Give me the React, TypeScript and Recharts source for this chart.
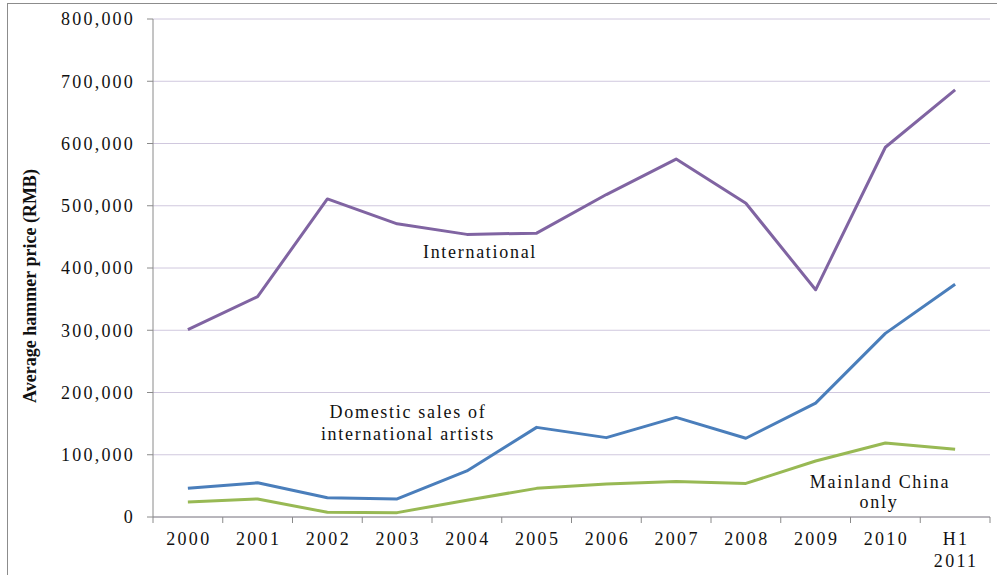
import React from 'react';
import { ComposedChart, Line, XAxis, YAxis, CartesianGrid, Customized } from 'recharts';

const categories = ['2000', '2001', '2002', '2003', '2004', '2005', '2006', '2007', '2008', '2009', '2010', 'H1 2011'];
const international = [301000, 354000, 511000, 471000, 454000, 456000, 518000, 575000, 504000, 365000, 594000, 686000];
const domesticIntl = [46000, 55000, 31000, 29000, 74000, 144000, 127500, 160000, 126500, 183000, 295000, 374000];
const mainland = [24000, 29000, 7500, 7000, 27000, 46000, 53000, 57000, 54000, 90000, 119000, 109000];
const yTicks = [0, 100000, 200000, 300000, 400000, 500000, 600000, 700000, 800000];

const data = categories.map((c, i) => ({
  year: c,
  international: international[i],
  domestic: domesticIntl[i],
  mainland: mainland[i],
}));

const FONT = '"Liberation Serif", "Times New Roman", serif';
const AXIS = '#8A8A8A';

const XTick = (props: any) => {
  const { x, y, payload, index } = props;
  const off = payload && payload.offset ? payload.offset : 0;
  const lines = String(payload.value).split(' ');
  const isLast = index === categories.length - 1;
  return (
    <g>
      <line x1={x - off} x2={x - off} y1={y - 8} y2={y - 2} stroke={AXIS} strokeWidth={1} />
      {isLast && <line x1={x + off} x2={x + off} y1={y - 8} y2={y - 2} stroke={AXIS} strokeWidth={1} />}
      <text x={x} y={y} textAnchor="middle" fontFamily={FONT} fontSize={18} letterSpacing={2.3} fill="#111">
        {lines.map((l, i) => (
          <tspan key={i} x={x + 1} dy={i === 0 ? 20 : 21.5}>{l}</tspan>
        ))}
      </text>
    </g>
  );
};

const Overlay = () => (
  <g>
    <rect x={7.5} y={3.5} width={1100} height={700} fill="none" stroke="#8C8C8C" strokeWidth={1} />
    <text transform="rotate(-90, 30, 286)" x={30} y={286} textAnchor="middle" dominantBaseline="central"
      fontFamily={FONT} fontSize={18} fontWeight="bold" fill="#111">Average hammer price (RMB)</text>
    <g fontFamily={FONT} fontSize={18} letterSpacing={1.7} fill="#111" textAnchor="middle">
      <text x={480} y={258}>International</text>
      <text x={408} y={418}>Domestic sales of</text>
      <text x={408} y={440}>international artists</text>
      <text x={880} y={488}>Mainland China</text>
      <text x={879} y={508}>only</text>
    </g>
  </g>
);

export default function App() {
  return (
    <div style={{ position: 'absolute', left: 0, top: 0, background: '#fff' }}>
      <ComposedChart width={997} height={575} data={data} margin={{ top: 19, right: 7, bottom: 0, left: 0 }}>
        <CartesianGrid vertical={false} stroke="#D0C8DE" strokeWidth={1} />
        <XAxis
          dataKey="year"
          scale="band"
          height={58}
          axisLine={{ stroke: AXIS }}
          tickLine={false}
          tickSize={6}
          tickMargin={2}
          interval={0}
          tick={<XTick />}
        />
        <YAxis
          width={153}
          domain={[0, 800000]}
          ticks={yTicks}
          interval={0}
          axisLine={{ stroke: AXIS }}
          tickLine={{ stroke: AXIS }}
          tickSize={6}
          tickMargin={12}
          tickFormatter={(v: number) => v.toLocaleString('en-US')}
          tick={{ fontFamily: FONT, fontSize: 18, letterSpacing: 2.2, fill: '#111' }}
        />
        <Line dataKey="international" stroke="#8064A2" strokeWidth={3} dot={false} isAnimationActive={false} strokeLinejoin="round" />
        <Line dataKey="domestic" stroke="#4A7EBB" strokeWidth={3} dot={false} isAnimationActive={false} strokeLinejoin="round" />
        <Line dataKey="mainland" stroke="#98B954" strokeWidth={3} dot={false} isAnimationActive={false} strokeLinejoin="round" />
        <Customized component={Overlay} />
      </ComposedChart>
    </div>
  );
}
